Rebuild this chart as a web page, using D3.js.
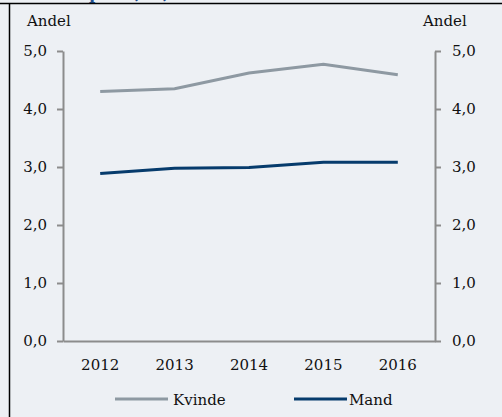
<!DOCTYPE html>
<html><head><meta charset="utf-8">
<script src="https://cdn.jsdelivr.net/npm/d3@7/dist/d3.min.js"></script>
<style>
html,body{margin:0;padding:0;background:#edf0f4;}
svg{display:block;}
text{font-family:"DejaVu Serif",serif;fill:#111;}
</style></head>
<body>
<svg id="c" width="502" height="417"></svg>
<script>
const years = ["2012","2013","2014","2015","2016"];
const kvinde = [4.30, 4.35, 4.62, 4.77, 4.59];
const mand = [2.89, 2.98, 2.99, 3.08, 3.08];
const yTicks = [0,1,2,3,4,5];
const seriesNames = ["Kvinde","Mand"];
const seriesColors = ["#8e99a2","#063b6c"];

(function(){
const svg = d3.select("#c");
const W = 502, H = 417;
svg.append("rect").attr("width",W).attr("height",H).attr("fill","#edf0f4");

// clipped title fragment (only descenders visible in the reference)
const t = svg.append("text").attr("y",-1).attr("font-size",17).attr("font-weight","bold")
  .style("fill","#1f4e8c");
t.append("tspan").attr("x",89).text("p");
t.append("tspan").attr("x",135).text(",");
t.append("tspan").attr("x",163).text(",");

// border
svg.append("line").attr("x1",0).attr("x2",W).attr("y1",3.5).attr("y2",3.5).attr("stroke","#000").attr("stroke-width",1.5);
svg.append("line").attr("x1",9.5).attr("x2",9.5).attr("y1",3).attr("y2",H).attr("stroke","#000").attr("stroke-width",1.5);

const mL = 63, mR = 435, mT = 51, mB = 341;
const x = d3.scaleBand().domain(years).range([mL,mR]);
const y = d3.scaleLinear().domain([0,5]).range([mB,mT]);
const fmt = d => d3.format(".1f")(d).replace(".",",");
const axisColor = "#8c8c8c";

const gL = svg.append("g").attr("transform",`translate(${mL},0)`)
  .call(d3.axisLeft(y).tickValues(yTicks).tickFormat(fmt).tickSize(6).tickPadding(10).tickSizeOuter(0));
const gR = svg.append("g").attr("transform",`translate(${mR},0)`)
  .call(d3.axisRight(y).tickValues(yTicks).tickFormat(fmt).tickSize(6).tickPadding(11).tickSizeOuter(0));
const gB = svg.append("g").attr("transform",`translate(0,${mB})`)
  .call(d3.axisBottom(x).tickSize(0).tickPadding(18).tickSizeOuter(0));
[gL,gR,gB].forEach(g=>{
  g.selectAll("path").attr("stroke",axisColor).attr("stroke-width",2);
  g.selectAll("line").attr("stroke",axisColor).attr("stroke-width",2);
  g.selectAll("text").attr("font-size",15).attr("font-family","DejaVu Serif").style("fill","#111");
});

svg.append("text").attr("x",27).attr("y",26).attr("font-size",15).text("Andel");
svg.append("text").attr("x",423).attr("y",26).attr("font-size",15).text("Andel");

const line = d3.line().x((d,i)=>x(years[i])+x.bandwidth()/2).y(d=>y(d));
[kvinde,mand].forEach((s,i)=>{
  svg.append("path").datum(s).attr("d",line).attr("fill","none")
    .attr("stroke",seriesColors[i]).attr("stroke-width",3);
});

// legend
const leg = [{x1:115,x2:168,tx:173},{x1:294,x2:347,tx:349}];
seriesNames.forEach((n,i)=>{
  svg.append("line").attr("x1",leg[i].x1).attr("x2",leg[i].x2).attr("y1",399).attr("y2",399)
    .attr("stroke",seriesColors[i]).attr("stroke-width",3);
  svg.append("text").attr("x",leg[i].tx).attr("y",405).attr("font-size",15).text(n);
});
})();
</script>
</body></html>
